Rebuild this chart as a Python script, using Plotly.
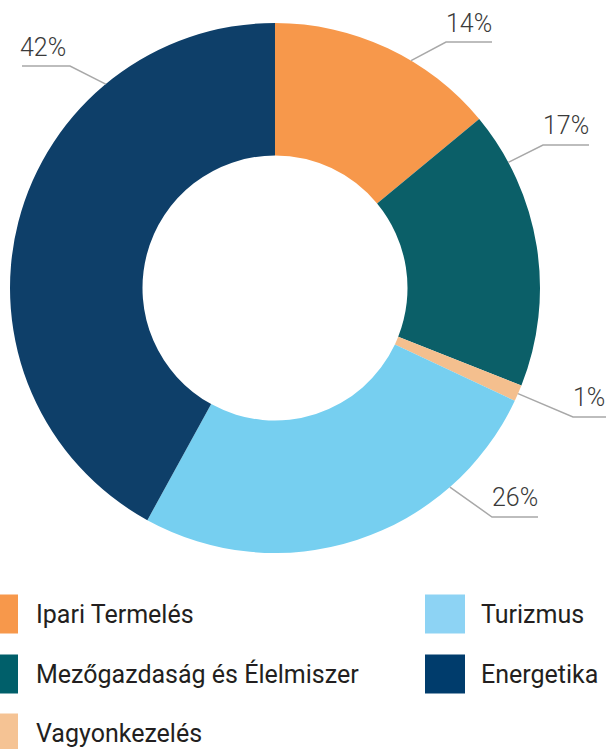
import math
import plotly.graph_objects as go

# ---- data ----
CATEGORIES = ["Ipari Termelés", "Mezőgazdaság és Élelmiszer", "Vagyonkezelés", "Turizmus", "Energetika"]
VALUES = [14, 17, 1, 26, 42]
COLORS = ["#F7984B", "#0B5F68", "#F4BF8E", "#76CFF0", "#0E3F69"]
LEGEND_COLORS = ["#F7984B", "#005F6A", "#F5C394", "#8DD3F4", "#003C6C"]

# ---- layout constants (pixels) ----
W, H = 609, 749
CX, CY, R = 275, 288, 265
HOLE = 0.5


def px(x):
    return x / W


def py(y):
    return 1 - y / H


fig = go.Figure(go.Pie(
    labels=CATEGORIES,
    values=VALUES,
    marker=dict(colors=COLORS, line=dict(width=0)),
    hole=HOLE,
    sort=False,
    direction="clockwise",
    rotation=0,
    textinfo="none",
    hoverinfo="label+percent",
    showlegend=False,
    domain=dict(x=[px(CX - R), px(CX + R)], y=[py(CY + R), py(CY - R)]),
))

# percentage labels with leader lines
# (anchor angle on the ring, elbow, line end, text position, text anchor)
LABEL_LAYOUT = [
    dict(ang=30.9, elbow=(446, 42), end=(492, 42), text=(494, 23), anchor="right"),
    dict(ang=61.7, elbow=(543, 145), end=(589, 145), text=(591, 125), anchor="right"),
    dict(ang=113.5, elbow=(573, 417), end=(606, 417), text=(607, 397), anchor="right"),
    dict(ang=138.7, elbow=(492, 517), end=(538, 517), text=(540, 497), anchor="right"),
    dict(ang=320.3, elbow=(70, 66), end=(22, 66), text=(18, 48), anchor="left"),
]

total = sum(VALUES)
shapes = []
annotations = []
for v, lay in zip(VALUES, LABEL_LAYOUT):
    a = math.radians(lay["ang"])
    sx = CX + R * math.sin(a)
    sy = CY - R * math.cos(a)
    ex, ey = lay["elbow"]
    fx, fy = lay["end"]
    shapes.append(dict(
        type="path", xref="paper", yref="paper",
        path=f"M {px(sx)},{py(sy)} L {px(ex)},{py(ey)} L {px(fx)},{py(fy)}",
        line=dict(color="#A8A8A8", width=1.5),
    ))
    tx, ty = lay["text"]
    annotations.append(dict(
        x=px(tx), y=py(ty), xref="paper", yref="paper",
        text=f"{round(100 * v / total)}%", showarrow=False,
        xanchor=lay["anchor"], yanchor="middle",
        font=dict(family="Roboto", size=25, color="#3A3A3A", weight=300),
    ))

# custom legend: two columns
LEGEND_SLOTS = [(0, 0), (0, 1), (0, 2), (1, 0), (1, 1)]
COL_SQ_X = [-22, 425]
COL_TX_X = [34, 479]
ROW_Y = [614, 674, 733]
SQ = 39
for name, col, (c, r) in zip(CATEGORIES, LEGEND_COLORS, LEGEND_SLOTS):
    y = ROW_Y[r]
    shapes.append(dict(
        type="rect", xref="paper", yref="paper",
        x0=px(COL_SQ_X[c]), x1=px(COL_SQ_X[c] + 40),
        y0=py(y + SQ / 2), y1=py(y - SQ / 2),
        fillcolor=col, line=dict(width=0),
    ))
    annotations.append(dict(
        x=px(COL_TX_X[c]), y=py(y), xref="paper", yref="paper",
        text=name, showarrow=False, xanchor="left", yanchor="middle",
        font=dict(family="Roboto", size=25, color="#231F20"),
    ))

fig.update_layout(
    width=W, height=H,
    margin=dict(l=0, r=0, t=0, b=0),
    paper_bgcolor="white",
    plot_bgcolor="white",
    shapes=shapes,
    annotations=annotations,
)

fig.write_html(
    "out.html",
    config={"displayModeBar": False},
    post_script="document.body.style.margin='0';document.body.style.overflow='hidden';",
)
